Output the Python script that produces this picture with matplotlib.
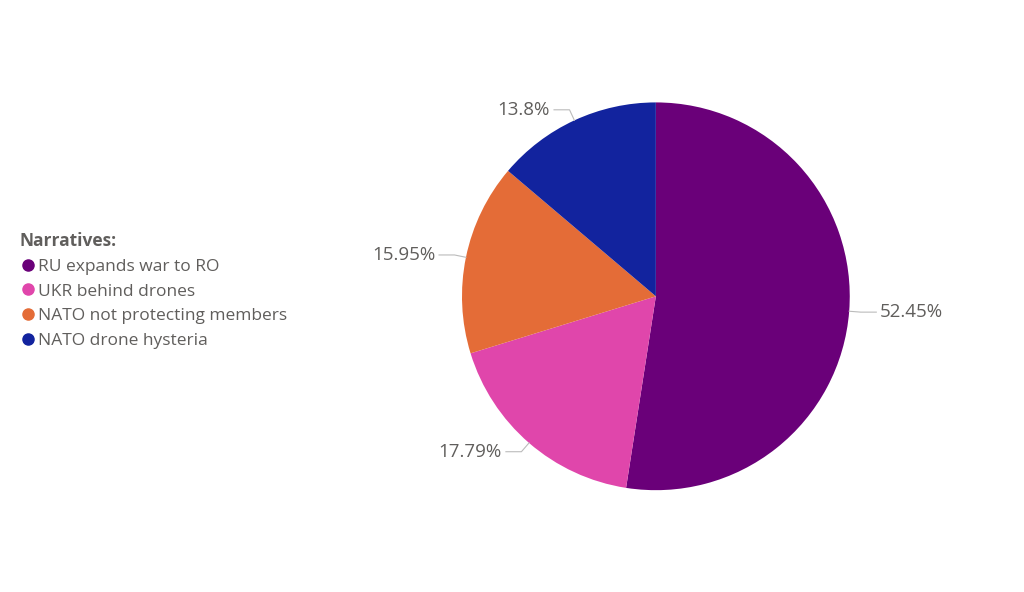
import matplotlib
matplotlib.use("Agg")
import matplotlib.pyplot as plt
import numpy as np
from matplotlib.lines import Line2D

labels = ["RU expands war to RO", "UKR behind drones", "NATO not protecting members", "NATO drone hysteria"]
values = [52.45, 17.79, 15.95, 13.8]
pct_text = ["52.45%", "17.79%", "15.95%", "13.8%"]
colors = ["#6a0079", "#e046ab", "#e46c37", "#12239e"]

plt.rcParams['font.family'] = ['Open Sans', 'DejaVu Sans']
fig = plt.figure(figsize=(10.24, 5.92), dpi=100)
ax = fig.add_axes([0.451, 0.172, 0.379, 0.655])
wedges, _ = ax.pie(values, colors=colors, startangle=90, counterclock=False,
                   wedgeprops=dict(linewidth=0))
ax.set_xlim(-1, 1); ax.set_ylim(-1, 1); ax.set_aspect('equal')

for w, t in zip(wedges, pct_text):
    ang = np.deg2rad((w.theta1 + w.theta2) / 2)
    x0, y0 = np.cos(ang), np.sin(ang)
    x1, y1 = 1.06 * x0, 1.06 * y0
    s = 1 if x0 >= 0 else -1
    x2 = x1 + s * 0.08
    ax.plot([x0, x1, x2], [y0, y1, y1], color="#bbbbbb", lw=0.8, clip_on=False)
    ax.text(x2 + s * 0.02, y1, t, ha="left" if s > 0 else "right", va="center",
            fontsize=13.5, color="#605e5c", clip_on=False)

handles = [Line2D([], [], marker='o', ls='', color=c, markersize=8) for c in colors]
leg = fig.legend(handles, labels, title="Narratives:", loc="upper left",
                 bbox_to_anchor=(0.012, 0.62), frameon=False, fontsize=12.5,
                 handletextpad=0.1, labelspacing=0.5, handlelength=1.0,
                 borderaxespad=0)
leg.get_title().set_fontweight("bold")
leg.get_title().set_fontsize(12.5)
leg.get_title().set_color("#605e5c")
leg._legend_box.align = "left"
for tx in leg.get_texts():
    tx.set_color("#605e5c")

fig.savefig("out.png", dpi=100)
